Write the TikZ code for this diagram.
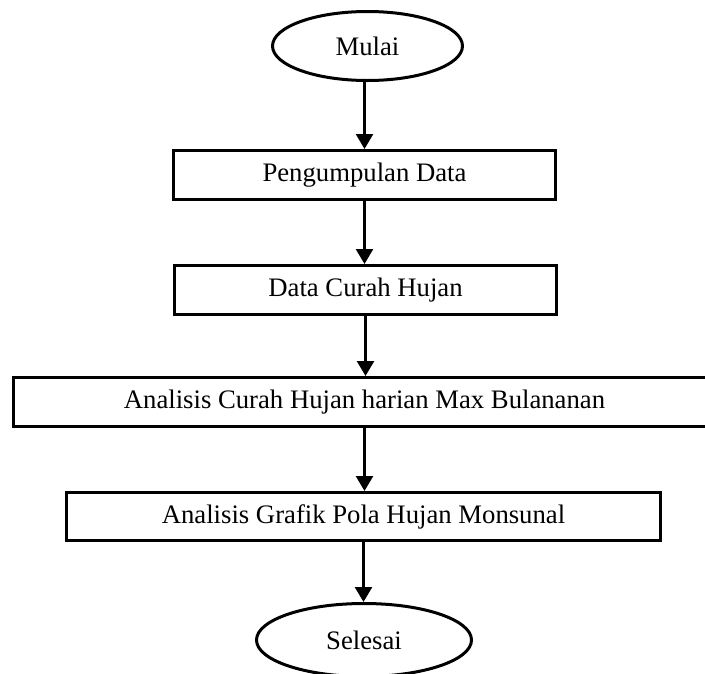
\documentclass[tikz,border=0pt]{standalone}
\usepackage{fontspec}
\setmainfont{Liberation Serif}
\usetikzlibrary{shapes.geometric,arrows.meta}
\begin{document}
\begin{tikzpicture}[x=1pt,y=-1pt,
  txt/.style={font=\fontsize{26.7}{32}\selectfont},
  box/.style={txt,draw,line width=3pt,rectangle,inner sep=0pt,minimum height=49pt},
  term/.style={txt,draw,line width=3pt,ellipse,inner sep=0pt},
  arr/.style={line width=2.5pt,-{Triangle[width=17pt,length=15pt]}}]
\useasboundingbox (0,0) rectangle (705,673);
\clip (0,0) rectangle (705,673);
\node[term,minimum width=190pt,minimum height=69pt] (mulai) at (367.5,46) {Mulai};
\node[box,minimum width=382pt] (b1) at (364.5,175) {Pengumpulan Data};
\node[box,minimum width=382pt] (b2) at (365.5,290) {Data Curah Hujan};
\node[box,minimum width=702pt] (b3) at (364.5,402) {Analisis Curah Hujan harian Max Bulananan};
\node[box,minimum width=594pt,minimum height=48pt] (b4) at (363.5,516.5) {Analisis Grafik Pola Hujan Monsunal};
\node[term,minimum width=215pt,minimum height=73pt] (selesai) at (364,640) {Selesai};
\draw[arr] (b1.north |- mulai.south) -- (b1.north);
\draw[arr] (b1.south) -- (b1.south |- b2.north);
\draw[arr] (b2.south) -- (b2.south |- b3.north);
\draw[arr] (b3.south) -- (b3.south |- b4.north);
\draw[arr] (b4.south) -- (b4.south |- selesai.north);
\end{tikzpicture}
\end{document}
